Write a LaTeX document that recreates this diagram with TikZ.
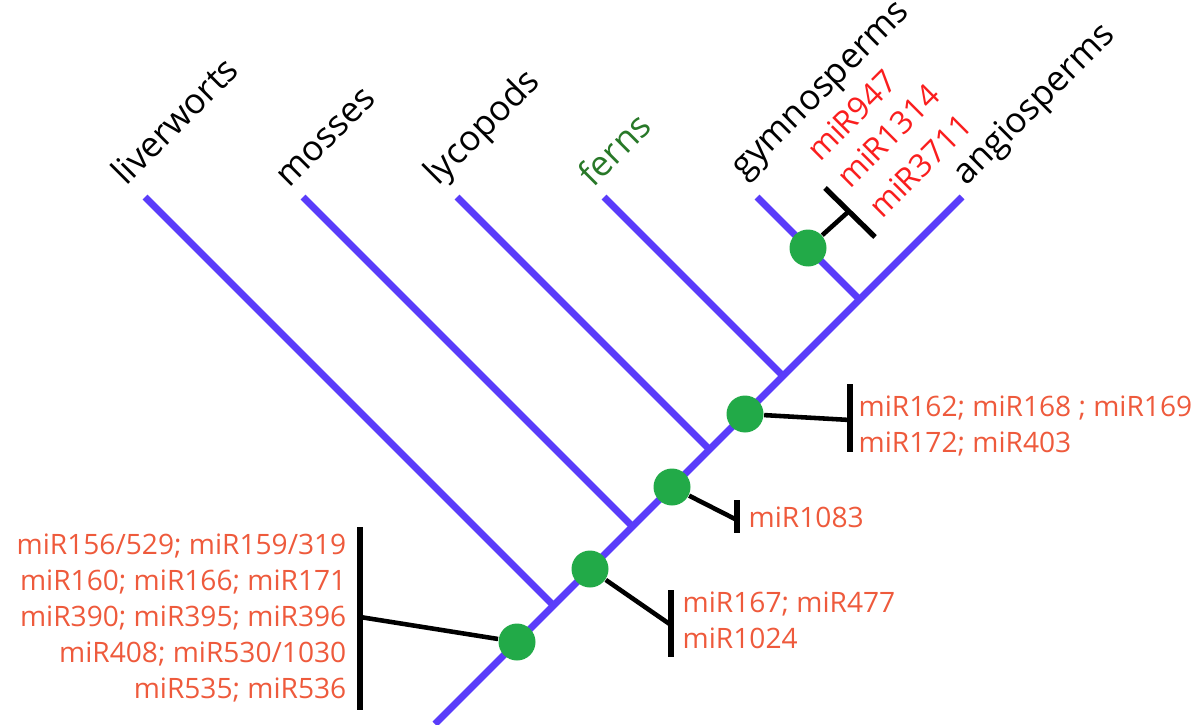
\documentclass[tikz,border=0pt]{standalone}
\usepackage{fontspec}
\setmainfont{Open Sans}
\definecolor{branchblue}{RGB}{90,60,250}
\definecolor{dotgreen}{RGB}{34,170,72}
\definecolor{mirorange}{RGB}{238,90,60}
\definecolor{mirred}{RGB}{250,30,30}
\definecolor{ferngreen}{RGB}{40,120,40}
\begin{document}
\begin{tikzpicture}[
        branch/.style={line width=2pt,branchblue},
        mirdot/.style={circle,fill=dotgreen,minimum size=0.37cm,inner sep=0pt},
        link/.style={line width=1.3pt,black},
        cut/.style={line width=1.5pt,black},
        mirlist/.style={font=\fontsize{8}{10.2}\selectfont,text=mirorange,inner sep=0pt},
        taxon/.style={font=\fontsize{10}{12}\selectfont,rotate=45,anchor=base west,inner sep=0pt},
        gymmir/.style={font=\fontsize{9}{11}\selectfont,text=mirred,rotate=45,anchor=base west,inner sep=0pt}
    ]
        \useasboundingbox(0,0)rectangle(12.01,7.24);
        % tips, root and junctions on the trunk
        \coordinate(root)at(4.35,0);
        \coordinate(liv)at(1.45,5.27);
        \coordinate(mos)at(3.03,5.27);
        \coordinate(lyc)at(4.57,5.27);
        \coordinate(fer)at(6.04,5.27);
        \coordinate(gym)at(7.57,5.27);
        \coordinate(ang)at(9.62,5.27);
        \coordinate(jliv)at(5.535,1.185);
        \coordinate(jmos)at(6.325,1.975);
        \coordinate(jlyc)at(7.095,2.745);
        \coordinate(jfer)at(7.83,3.48);
        \coordinate(jgym)at(8.595,4.245);
        \draw[branch](root)--(ang);
        \draw[branch](liv)--(jliv);
        \draw[branch](mos)--(jmos);
        \draw[branch](lyc)--(jlyc);
        \draw[branch](fer)--(jfer);
        \draw[branch](gym)--(jgym);

        % taxa
        \node[taxon](tliv)at(1.26,5.37){liverworts};
        \node[taxon](tmos)at(2.89,5.35){mosses};
        \node[taxon](tlyc)at(4.38,5.37){lycopods};
        \node[taxon,text=ferngreen](tfer)at(5.93,5.35){ferns};
        \node[taxon](tgym)at(7.44,5.44){gymnosperms};
        \node[taxon](tang)at(9.66,5.37){angiosperms};

        % gains of miRNAs
        \node[mirdot](d1)at(5.17,0.82){};
        \node[mirdot](d2)at(5.90,1.55){};
        \node[mirdot](d3)at(6.72,2.37){};
        \node[mirdot](d4)at(7.45,3.10){};
        \node[mirdot](d5)at(8.08,4.76){};

        \coordinate(b1t)at(3.60,1.97);\coordinate(b1b)at(3.60,0.14);\coordinate(b1)at(3.60,1.07);
        \coordinate(b2t)at(6.71,1.34);\coordinate(b2b)at(6.71,0.67);\coordinate(b2)at(6.71,0.99);
        \coordinate(b3t)at(7.37,2.24);\coordinate(b3b)at(7.37,1.91);\coordinate(b3)at(7.37,2.04);
        \coordinate(b4t)at(8.50,3.40);\coordinate(b4b)at(8.50,2.72);\coordinate(b4)at(8.50,3.04);
        \coordinate(b5t)at(8.25,5.36);\coordinate(b5b)at(8.75,4.87);\coordinate(b5)at(8.48,5.12);
        \draw[cut](b1t)--(b1b);
        \draw[cut](b2t)--(b2b);
        \draw[cut](b3t)--(b3b);
        \draw[cut](b4t)--(b4b);
        \draw[cut](b5t)--(b5b);
        \draw[link](d1)--(b1);
        \draw[link](d2)--(b2);
        \draw[link](d3)--(b3);
        \draw[link](d4)--(b4);
        \draw[link](d5)--(b5);

        \node[mirlist,anchor=east,align=right](m1)at(3.47,1.06){miR156/529; miR159/319\\miR160; miR166; miR171\\miR390; miR395; miR396\\miR408; miR530/1030\\miR535; miR536};
        \node[mirlist,anchor=west,align=left](m2)at(6.82,1.04){miR167; miR477\\miR1024};
        \node[mirlist,anchor=west](m3)at(7.48,2.07){miR1083};
        \node[mirlist,anchor=west,align=left](m4)at(8.58,2.98){miR162; miR168 ; miR169\\miR172; miR403};
        \node[gymmir](g1)at(8.20,5.61){miR947};
        \node[gymmir](g2)at(8.50,5.34){miR1314};
        \node[gymmir](g3)at(8.82,5.04){miR3711};
    \end{tikzpicture}
\end{document}
